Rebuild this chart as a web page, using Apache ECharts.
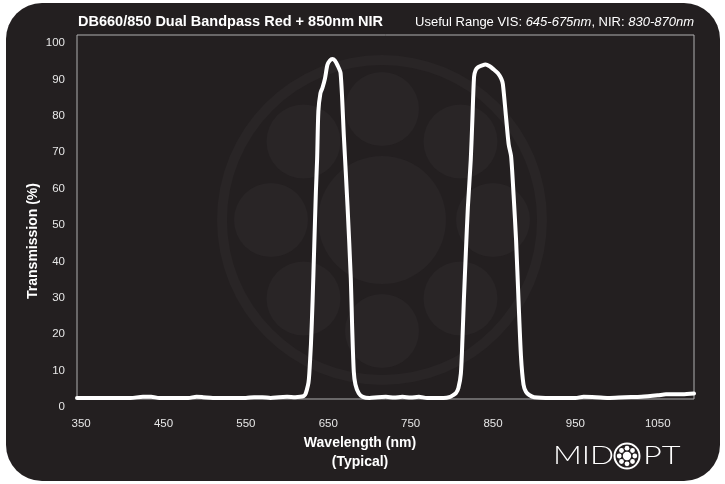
<!DOCTYPE html>
<html>
<head>
<meta charset="utf-8">
<script src="https://cdn.jsdelivr.net/npm/echarts@6/dist/echarts.min.js"></script>
<style>
  html, body { margin: 0; padding: 0; background: #ffffff; }
  #chart { width: 725px; height: 484px; }
</style>
</head>
<body>
<div id="chart"></div>
<script>
// ---- data ----
const wavelengths = [
  345, 380, 410, 425, 435, 445, 480, 490, 498, 510, 550, 560, 570, 580, 590, 600, 610, 616,
  620, 622, 624, 626, 627, 629, 631, 633, 635, 636.5, 638, 640.5, 643, 646, 649, 652, 655, 658, 661,
  665, 669, 673.4, 677.4, 679, 681, 683, 687, 692, 700,
  710, 720, 730, 740, 750, 760, 770, 790, 798,
  802, 805, 808, 811, 813, 814.6, 817, 819.5, 823, 825, 827, 829, 832, 836, 841, 846, 851, 856, 860,
  862, 866, 869, 872, 875, 878, 881, 884, 887, 890, 894, 900,
  920, 950, 960, 975, 990, 1010, 1030, 1050, 1060, 1080, 1094
];
const transmission = [
  0.3, 0.3, 0.3, 0.6, 0.6, 0.3, 0.3, 0.6, 0.5, 0.3, 0.3, 0.5, 0.5, 0.3, 0.5, 0.6, 0.5, 0.6,
  0.8, 1.2, 2.5, 4.5, 7, 15, 27, 42, 57, 66, 79, 84, 85.5, 88, 91.8, 93, 93.4, 93, 91.8,
  89.5, 72, 53, 33, 20, 7.5, 4, 1.6, 0.6, 0.3,
  0.5, 0.6, 0.4, 0.6, 0.4, 0.6, 0.3, 0.3, 0.6,
  1.1, 1.6, 3, 7, 17, 27, 40, 52.7, 65.7, 77, 88.5, 90.4, 91.2, 91.6, 91.9, 91.4, 90.5, 89.5, 88,
  86.5, 77, 70, 66.6, 56, 43.7, 27, 11.6, 4, 2, 1.1, 0.5,
  0.3, 0.3, 0.6, 0.5, 0.3, 0.5, 0.6, 1.0, 1.3, 1.3, 1.5
];
const xTickLabels = [350, 450, 550, 650, 750, 850, 950, 1050];
const yTickLabels = [0, 10, 20, 30, 40, 50, 60, 70, 80, 90, 100];

const titleText = 'DB660/850 Dual Bandpass Red + 850nm NIR';
const rangeText = 'Useful Range VIS: {i|645-675nm}, NIR: {i|830-870nm}';
const xName1 = 'Wavelength (nm)';
const xName2 = '(Typical)';
const yName = 'Transmission (%)';

const points = wavelengths.map((w, i) => [w, transmission[i]]);

// ---- decoration: watermark logo ----
const wmColor = '#292526';
const wmCx = 382, wmCy = 220;
const watermark = [
  { type: 'ring', z: -5, silent: true, shape: { cx: wmCx, cy: wmCy, r: 165, r0: 155 }, style: { fill: wmColor } },
  { type: 'circle', z: -5, silent: true, shape: { cx: wmCx, cy: wmCy, r: 64 }, style: { fill: wmColor } }
];
for (let k = 0; k < 8; k++) {
  const a = k * Math.PI / 4;
  watermark.push({ type: 'circle', z: -5, silent: true,
    shape: { cx: wmCx + 111 * Math.sin(a), cy: wmCy - 111 * Math.cos(a), r: 37 },
    style: { fill: wmColor } });
}

// ---- decoration: MIDOPT logo ----
const lgCx = 627, lgCy = 456;
const logoFont = '300 25px Lato, "Open Sans", sans-serif';
const logo = [
  { type: 'text', z: 10, silent: true, x: 553, y: lgCy, scaleX: 1.27,
    style: { x: 0, y: 0, text: 'MID', fill: '#ffffff', font: logoFont, textAlign: 'left', textVerticalAlign: 'middle' } },
  { type: 'text', z: 10, silent: true, x: 643, y: lgCy, scaleX: 1.3,
    style: { x: 0, y: 0, text: 'PT', fill: '#ffffff', font: logoFont, textAlign: 'left', textVerticalAlign: 'middle' } },
  { type: 'circle', z: 10, silent: true, shape: { cx: lgCx, cy: lgCy, r: 12.5 },
      style: { fill: 'none', stroke: '#ffffff', lineWidth: 2 } },
  { type: 'circle', z: 10, silent: true, shape: { cx: lgCx, cy: lgCy, r: 4.2 }, style: { fill: '#ffffff' } }
];
for (let k = 0; k < 8; k++) {
  const a = k * Math.PI / 4;
  logo.push({ type: 'circle', z: 10, silent: true,
    shape: { cx: lgCx + 7.8 * Math.sin(a), cy: lgCy - 7.8 * Math.cos(a), r: 2.4 },
    style: { fill: '#ffffff' } });
}

const baseFont = '"Liberation Sans", Arial, sans-serif';
const chart = echarts.init(document.getElementById('chart'), null, { renderer: 'canvas' });
chart.setOption({
  backgroundColor: '#ffffff',
  animation: false,
  graphic: [
    { type: 'rect', z: -10, silent: true, shape: { x: 6, y: 3, width: 714, height: 478, r: 36 },
      style: { fill: '#231f20' } },
    ...watermark,
    { type: 'text', z: 10, silent: true, style: { x: 78, y: 22, text: titleText, fill: '#ffffff',
        font: 'bold 14.5px ' + baseFont, textAlign: 'left', textVerticalAlign: 'middle' } },
    { type: 'text', z: 10, silent: true, style: { x: 694, y: 22, text: rangeText, fill: '#ffffff',
        font: '13px ' + baseFont, textAlign: 'right', textVerticalAlign: 'middle',
        rich: { i: { fontStyle: 'italic', fontSize: 13, fontFamily: baseFont, fill: '#ffffff' } } } },
    { type: 'text', z: 10, silent: true, rotation: Math.PI / 2, x: 33, y: 241,
      style: { x: 0, y: 0, text: yName, fill: '#ffffff',
        font: 'bold 14px ' + baseFont, textAlign: 'center', textVerticalAlign: 'middle' } },
    { type: 'text', z: 10, silent: true, style: { x: 360, y: 443, text: xName1, fill: '#ffffff',
        font: 'bold 14px ' + baseFont, textAlign: 'center', textVerticalAlign: 'middle' } },
    { type: 'text', z: 10, silent: true, style: { x: 360, y: 462, text: xName2, fill: '#ffffff',
        font: 'bold 14px ' + baseFont, textAlign: 'center', textVerticalAlign: 'middle' } },
    ...logo
  ],
  grid: {
    left: 77, right: 31, top: 35, bottom: 85,
    containLabel: false, outerBoundsMode: 'none',
    show: true, backgroundColor: 'transparent', borderColor: '#b0b0b0', borderWidth: 1
  },
  xAxis: {
    type: 'value', min: 345, max: 1094,
    axisLine: { show: false }, axisTick: { show: false }, splitLine: { show: false },
    axisLabel: {
      customValues: xTickLabels, formatter: (v) => String(v),
      color: '#e6e6e6', fontSize: 11.5, margin: 19, fontFamily: baseFont
    }
  },
  yAxis: {
    type: 'value', min: 0, max: 100,
    axisLine: { show: false }, axisTick: { show: false }, splitLine: { show: false },
    axisLabel: {
      customValues: yTickLabels, formatter: (v) => String(v),
      color: '#e6e6e6', fontSize: 11.5, margin: 12,
      verticalAlign: 'top', padding: [2, 0, 0, 0], fontFamily: baseFont
    }
  },
  series: [{
    type: 'line', data: points, showSymbol: false, smooth: 0.25, z: 5,
    lineStyle: { color: '#ffffff', width: 4, cap: 'round', join: 'round' }
  }]
});
</script>
</body>
</html>
